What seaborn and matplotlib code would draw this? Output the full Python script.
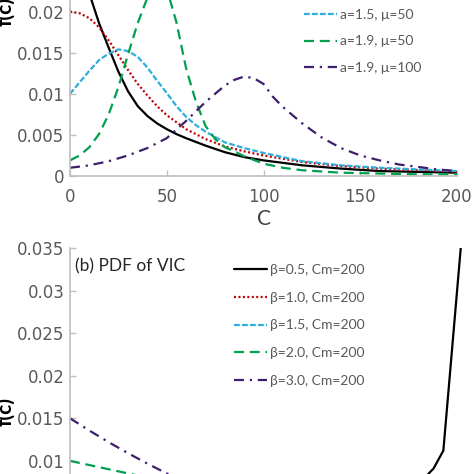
import pandas as pd
import matplotlib
matplotlib.use("Agg")
import matplotlib.pyplot as plt
from matplotlib.ticker import FuncFormatter
import seaborn as sns

sns.set_theme(style="white")
plt.rcParams['font.family'] = ['Lato', 'DejaVu Sans']

# ---------------- top panel: curves ----------------
top_labels = ["a=1.0, μ=0", "a=1.2, μ=0", "a=1.5, μ=50", "a=1.9, μ=50", "a=1.9, μ=100"]

black_c = [0, 5, 10, 15, 20, 25, 30, 35, 40, 45, 50, 55, 60, 70, 80, 90, 100, 120, 140, 160, 180, 200]
black_f = [0.05, 0.032, 0.0222, 0.0186, 0.0156, 0.0127, 0.0103, 0.0085, 0.0073, 0.0064, 0.0057,
           0.0051, 0.0046, 0.0037, 0.0029, 0.0023, 0.0019, 0.0013, 0.0009, 0.0006, 0.0005, 0.0004]

red_c = [0, 5, 10, 15, 20, 25, 30, 35, 40, 45, 50, 60, 70, 80, 90, 100, 120, 140, 160, 180, 200]
red_f = [0.0200, 0.0198, 0.0192, 0.0181, 0.0165, 0.0147, 0.0129, 0.0112, 0.0098, 0.0085, 0.0074,
         0.0057, 0.0045, 0.0036, 0.0030, 0.0025, 0.0017, 0.0012, 0.0009, 0.0007, 0.0005]

cyan_c = [0, 5, 10, 15, 20, 25, 30, 35, 40, 45, 50, 55, 60, 65, 70, 80, 90, 100, 120, 140, 160, 180, 200]
cyan_f = [0.0100, 0.0114, 0.0128, 0.0141, 0.0149, 0.0154, 0.0152, 0.0145, 0.0132, 0.0116, 0.0101,
          0.0085, 0.0072, 0.0062, 0.0054, 0.0041, 0.0034, 0.0028, 0.0018, 0.0013, 0.0010, 0.0008, 0.0006]

green_c = [0, 5, 10, 15, 20, 25, 30, 35, 40, 45, 50, 55, 60, 65, 70, 75, 80, 85, 90, 100,
           110, 120, 140, 160, 180, 200]
green_f = [0.0019, 0.0025, 0.0035, 0.0051, 0.0075, 0.0108, 0.0148, 0.0186, 0.0217, 0.0238, 0.0228,
           0.0187, 0.0131, 0.0091, 0.0061, 0.0045, 0.0035, 0.0030, 0.0024, 0.0015,
           0.0010, 0.0007, 0.0004, 0.0003, 0.0002, 0.0002]

purple_c = [0, 10, 20, 30, 40, 50, 60, 70, 80, 85, 90, 95, 100, 105, 110, 120, 130, 140, 150,
            160, 170, 180, 190, 200]
purple_f = [0.0010, 0.0013, 0.0018, 0.0025, 0.0034, 0.0046, 0.0067, 0.0090, 0.0110, 0.0117, 0.0121,
            0.0119, 0.0112, 0.0096, 0.0084, 0.0064, 0.0047, 0.0034, 0.0025,
            0.0019, 0.0014, 0.0011, 0.0008, 0.0006]

# ---------------- bottom panel: PDF of VIC ----------------
bot_labels = ["β=0.5, Cm=200", "β=1.0, Cm=200", "β=1.5, Cm=200", "β=2.0, Cm=200", "β=3.0, Cm=200"]

b05_c = [0, 20, 40, 60, 80, 100, 120, 140, 160, 170, 180, 185, 190, 199]
b05_f = [0.0025, 0.00264, 0.0028, 0.0030, 0.00323, 0.00354, 0.00395, 0.00456, 0.00559, 0.00645,
         0.0079, 0.0091, 0.0112, 0.0354]
b10_c = [0, 50, 100, 150, 200]
b10_f = [0.005, 0.005, 0.005, 0.005, 0.005]
b15_c = [0, 40, 80, 120, 160, 180, 190, 200]
b15_f = [0.0075, 0.0067, 0.0058, 0.0047, 0.0034, 0.0024, 0.0017, 0.0]
b20_c = [0, 20, 40, 60, 80, 100, 120, 140, 160, 180, 200]
b20_f = [0.01, 0.009, 0.008, 0.007, 0.006, 0.005, 0.004, 0.003, 0.002, 0.001, 0.0]
b30_c = [0, 10, 20, 30, 40, 50, 60, 70, 80, 100, 120, 140, 160, 180, 200]
b30_f = [0.015, 0.01354, 0.01215, 0.01084, 0.0096, 0.00844, 0.00735, 0.00634, 0.0054, 0.00375,
         0.0024, 0.00135, 0.0006, 0.00015, 0.0]

colors = ["#000000", "#c00000", "#2eaede", "#00a04e", "#3d1f6b"]
dash_styles = ["", (0.9, 1.1), (2.6, 1.0), (4.5, 2.6), (4.5, 2.6, 1.0, 2.6)]


def long_df(cs, fs, labels):
    parts = []
    for c, f, lab in zip(cs, fs, labels):
        parts.append(pd.DataFrame({"c": c, "f": f, "series": lab}))
    return pd.concat(parts, ignore_index=True)


top_df = long_df([black_c, red_c, cyan_c, green_c, purple_c],
                 [black_f, red_f, cyan_f, green_f, purple_f], top_labels)
bot_df = long_df([b05_c, b10_c, b15_c, b20_c, b30_c],
                 [b05_f, b10_f, b15_f, b20_f, b30_f], bot_labels)

W = H = 474
fig = plt.figure(figsize=(4.74, 4.74), dpi=100)
# the reference is a crop: top panel runs off the top, bottom panel off the bottom
ax1 = fig.add_axes([70 / W, 1 - 176 / H, 387 / W, 328.8 / H])
ax2 = fig.add_axes([70 / W, 1 - 546 / H, 393 / W, 298 / H])

gray_txt = "#595959"
fmt = FuncFormatter(lambda v, p: "%g" % round(v, 4))

for ax, df, labels, ytop, yticks, lsp in [
        (ax1, top_df, top_labels, 0.04, [0, 0.005, 0.01, 0.015, 0.02, 0.025, 0.03, 0.035, 0.04], 1.05),
        (ax2, bot_df, bot_labels, 0.035, [0, 0.005, 0.01, 0.015, 0.02, 0.025, 0.03, 0.035], 1.13)]:
    sns.lineplot(data=df, x="c", y="f", hue="series", style="series",
                 hue_order=labels, style_order=labels,
                 palette=dict(zip(labels, colors)), dashes=dict(zip(labels, dash_styles)),
                 estimator=None, sort=False, linewidth=1.6, legend=False, ax=ax)
    ax.set_xlim(0, 200)
    ax.set_ylim(0, ytop)
    ax.set_xticks([0, 50, 100, 150, 200])
    ax.set_yticks(yticks)
    ax.yaxis.set_major_formatter(fmt)
    ax.tick_params(direction="in", length=4, width=1, color="#bfbfbf",
                   labelcolor=gray_txt, labelsize=12, left=True, bottom=True)
    ax.tick_params(axis="x", pad=9)
    ax.tick_params(axis="y", pad=4)
    for lab in ax.get_xticklabels() + ax.get_yticklabels():
        lab.set_fontfamily("DejaVu Sans")
    for side in ["top", "right"]:
        ax.spines[side].set_visible(False)
    for side in ["left", "bottom"]:
        ax.spines[side].set_color("#bfbfbf")
        ax.spines[side].set_linewidth(1.2)
    ax.set_ylabel("f(c)", fontsize=15, fontweight="bold", color="black")
    lines = ax.get_lines()[:5]
    ax.legend(lines, labels, frameon=False, fontsize=10, labelcolor=gray_txt,
              handlelength=2.4, handletextpad=0.2, labelspacing=lsp, borderpad=0,
              borderaxespad=0)

ax1.set_xlabel("C", fontsize=15, color="#404040")
ax1.xaxis.set_label_coords(0.5, -0.10)
ax2.set_xlabel("")
ax1.yaxis.set_label_coords(-0.142, 0.5)
ax2.yaxis.set_label_coords(-0.140, 0.45)

leg1 = ax1.get_legend()
leg1.set_bbox_to_anchor((304 / W, 1 - 74 / H), transform=fig.transFigure)
leg1.set_loc("lower left")
leg2 = ax2.get_legend()
leg2.set_bbox_to_anchor((234 / W, 1 - 264 / H), transform=fig.transFigure)
leg2.set_loc("upper left")

fig.text(75 / W, 1 - 266 / H, "(b) PDF of VIC", fontsize=12.5, color="#262626", va="center", ha="left")

fig.savefig("out.png", dpi=100)
